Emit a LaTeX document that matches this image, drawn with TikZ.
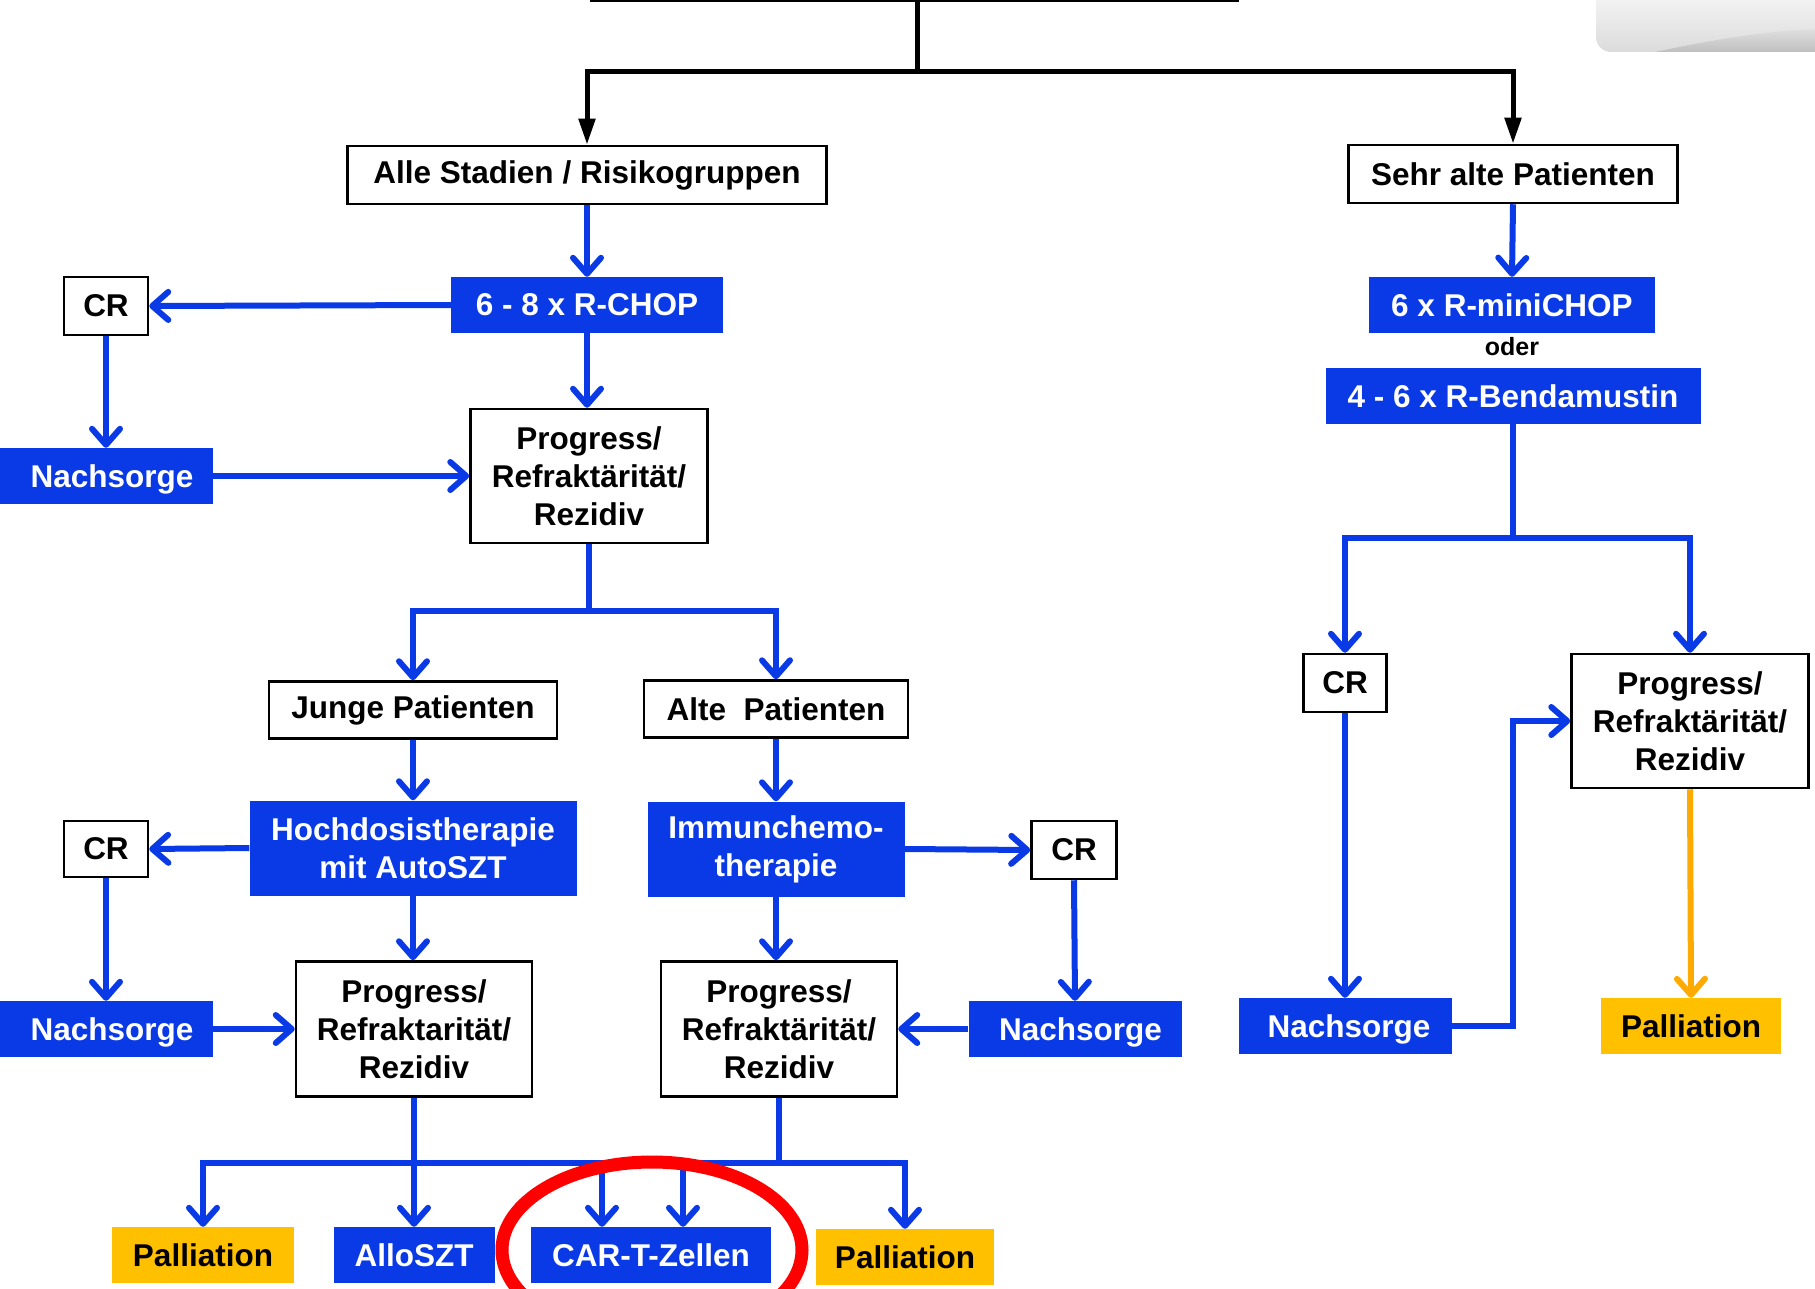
\documentclass[tikz,border=0pt]{standalone}
\usepackage{fontspec}
\setmainfont{Liberation Sans}
\usetikzlibrary{arrows.meta,shadings}
\definecolor{myblue}{RGB}{10,58,230}
\definecolor{mygold}{RGB}{255,192,0}
\definecolor{myorange}{RGB}{255,170,0}
\newcommand{\nachtext}[1]{\hspace*{#1}\rule{0pt}{30pt}Nachsorge}
\begin{document}
\begin{tikzpicture}[x=1pt,y=-1pt,
  every node/.style={font=\fontsize{31.5}{38}\selectfont\bfseries, align=center, inner sep=0pt},
  wbox/.style n args={2}{draw=black, line width=2.5pt, fill=white, text=black, minimum width=#1, minimum height=#2},
  bbox/.style n args={2}{fill=myblue, text=white, minimum width=#1, minimum height=#2},
  gbox/.style n args={2}{fill=mygold, text=black, minimum width=#1, minimum height=#2},
  bline/.style={draw=myblue, line width=6pt},
  barrow/.style={bline, -{Straight Barb[round,length=16pt,width=28pt]}},
  kline/.style={draw=black, line width=5pt},
  karrow/.style={kline, -{Triangle[length=26pt,width=16pt]}}
]
\useasboundingbox (0,0) rectangle (1815,1289);

% gray shape top right
\begin{scope}
  \clip (1560,0) rectangle (1815,60);
  \shade[top color=white, bottom color=gray!28, rounded corners=15pt] (1596,-30) rectangle (1850,52);
  \shade[top color=gray!25, bottom color=gray!50] (1655,52) .. controls (1720,38) and (1770,31) .. (1815,29) -- (1815,52) -- cycle;
\end{scope}

% nodes
\node[wbox={479}{58}] (alle) at (587,175) {Alle Stadien / Risikogruppen};
\node[wbox={329}{58}] (sehr) at (1513,174) {Sehr alte Patienten};
\node[bbox={272}{56}] (rchop) at (587,305) {6 - 8 x R-CHOP};
\node[wbox={84}{58}] (cr1) at (106,306) {CR};
\node[bbox={213}{56}] (nach1) at (106,476) {\nachtext{12pt}};
\node[wbox={237}{134}] (prog1) at (589,476) {Progress/\\Refraktärität/\\Rezidiv};
\node[wbox={288}{57}] (junge) at (413,710) {Junge Patienten};
\node[wbox={264}{57}] (alte) at (776,709) {Alte\ \ Patienten};
\node[bbox={327}{95}] (hoch) at (413,848) {Hochdosistherapie\\mit AutoSZT};
\node[bbox={257}{95}] (immun) at (776,849) {Immunchemo-\\therapie};
\node[wbox={84}{56}] (cr2) at (106,849) {CR};
\node[wbox={85}{58}] (cr3) at (1074,850) {CR};
\node[bbox={213}{56}] (nach2) at (106,1029) {\nachtext{12pt}};
\node[wbox={236}{135}] (prog2) at (414,1029) {Progress/\\Refraktarität/\\Rezidiv};
\node[wbox={236}{135}] (prog3) at (779,1029) {Progress/\\Refraktärität/\\Rezidiv};
\node[bbox={213}{56}] (nach3) at (1075,1029) {\nachtext{11pt}};
\node[gbox={182}{56}] (pal1) at (203,1255) {Palliation};
\node[bbox={161}{56}] (allo) at (414,1255) {AlloSZT};
\node[bbox={240}{56}] (cart) at (651,1255) {CAR-T-Zellen};
\node[gbox={178}{56}] (pal2) at (905,1257) {Palliation};
\node[bbox={286}{56}] (mini) at (1512,305) {6 x R-miniCHOP};
\node[font=\fontsize{25}{30}\selectfont\bfseries] (oder) at (1512,347) {oder};
\node[bbox={375}{56}] (bend) at (1513,396) {4 - 6 x R-Bendamustin};
\node[wbox={83}{58}] (cr4) at (1345,683) {CR};
\node[wbox={237}{134}] (prog4) at (1690,721) {Progress/\\Refraktärität/\\Rezidiv};
\node[bbox={213}{56}] (nach4) at (1345,1026) {\nachtext{8pt}};
\node[gbox={180}{56}] (pal4) at (1691,1026) {Palliation};

% black top connectors
\draw[line width=3pt] (590,1) -- (1239,1);
\coordinate (topc) at (917,1);
\coordinate (ksplit) at (917,72);
\draw[kline] (topc) -- (ksplit);
\draw[karrow] (ksplit) -| (alle.north);
\draw[karrow] (ksplit) -| (sehr.north);

% left tree
\draw[barrow] (alle.south) -- (rchop.north);
\draw[barrow] (rchop.west) -- (cr1.east);
\draw[barrow] (cr1.south) -- (nach1.north);
\draw[barrow] (rchop.south) -- (rchop.south |- prog1.north);
\draw[barrow] (nach1.east) -- (prog1.west);
\coordinate (j1) at (589,611);
\draw[bline] (prog1.south) -- (j1);
\draw[barrow] (j1) -| (junge.north);
\draw[barrow] (j1) -| (alte.north);
\draw[barrow] (junge.south) -- (hoch.north);
\draw[barrow] (alte.south) -- (immun.north);
\draw[barrow] (hoch.west) -- (cr2.east);
\draw[barrow] (cr2.south) -- (nach2.north);
\draw[barrow] (nach2.east) -- (prog2.west);
\draw[barrow] (hoch.south) -- (hoch.south |- prog2.north);
\draw[barrow] (immun.east) -- (cr3.west);
\draw[barrow] (cr3.south) -- (nach3.north);
\draw[barrow] (nach3.west) -- (prog3.east);
\draw[barrow] (immun.south) -- (immun.south |- prog3.north);

\coordinate (j2) at (414,1163);
\draw[bline] (prog2.south) -- (j2);
\draw[barrow] (j2) -| (pal1.north);
\draw[barrow] (j2) -- (allo.north);
\draw[barrow] (j2) -| ([xshift=-49pt]cart.north);
\coordinate (j3) at (779,1163);
\draw[bline] (prog3.south) -- (j3);
\draw[barrow] (j3) -| ([xshift=32pt]cart.north);
\draw[barrow] (j3) -| (pal2.north);

% right tree
\draw[barrow] (sehr.south) -- (mini.north);
\coordinate (j4) at (1513,538);
\draw[bline] (bend.south) -- (j4);
\draw[barrow] (j4) -| (cr4.north);
\draw[barrow] (j4) -| (prog4.north);
\draw[barrow] (cr4.south) -- (nach4.north);
\draw[barrow] (nach4.east) -- ++(61,0) |- (prog4.west);
\draw[barrow, draw=myorange] (prog4.south) -- (pal4.north);

% red ellipse
\draw[red, line width=13pt] (652,1250) ellipse [x radius=150pt, y radius=88pt];
\end{tikzpicture}
\end{document}
